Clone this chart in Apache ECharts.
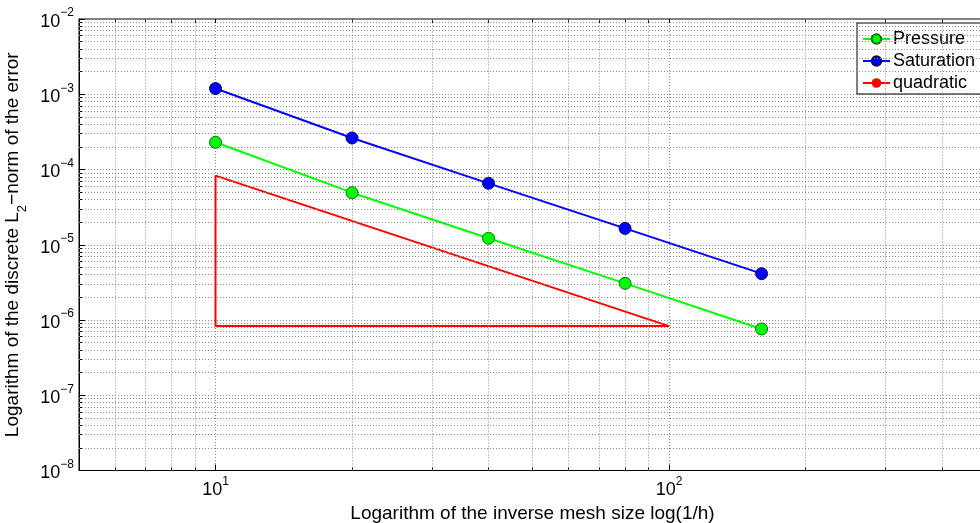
<!DOCTYPE html>
<html>
<head>
<meta charset="utf-8">
<script src="https://cdn.jsdelivr.net/npm/echarts@6/dist/echarts.min.js"></script>
<style>html,body{margin:0;padding:0;background:#fff;}#chart{width:980px;height:523px;}</style>
</head>
<body>
<div id="chart"></div>
<script>
// ---- data ----
const meshSizes = [10, 20, 40, 80, 160];
const pressure = [2.30e-4, 4.92e-5, 1.22e-5, 3.07e-6, 7.6e-7];
const saturation = [1.19e-3, 2.62e-4, 6.55e-5, 1.65e-5, 4.13e-6];
const quadraticX = [10, 100, 10, 10];
const quadraticY = [8.3e-5, 8.3e-7, 8.3e-7, 8.3e-5];
const xMajorTicks = [10, 100];
const xMinorTicks = [6, 7, 8, 9, 20, 30, 40, 50, 60, 70, 80, 90, 200, 300, 400];
const yMajorTicks = [1e-8, 1e-7, 1e-6, 1e-5, 1e-4, 1e-3, 1e-2];
const yMinorMantissas = [2, 3, 4, 5, 6, 7, 8, 9];
const xRange = [5, 500];
const yRange = [1e-8, 1e-2];
const xTitle = 'Logarithm of the inverse mesh size log(1/h)';
const yTitle = 'Logarithm of the discrete L{sub|2}\u2212norm of the error';
const seriesNames = ['Pressure', 'Saturation', 'quadratic'];

const yMinorTicks = [];
for (let i = 0; i < yMajorTicks.length - 1; i++) {
  yMinorMantissas.forEach(m => yMinorTicks.push(Number((m * yMajorTicks[i]).toPrecision(3))));
}

const FONT = '"Liberation Sans", Arial, Helvetica, sans-serif';
function powLabel(v) {
  const lg = Math.log10(v);
  const e = Math.round(lg);
  if (Math.abs(lg - e) > 1e-6) return '';
  return '{b|10}{s|' + (e < 0 ? '\u2212' : '') + Math.abs(e) + '}';
}
const labelRich = {
  b: { fontSize: 18, fontFamily: FONT, color: '#000', lineHeight: 24, verticalAlign: 'bottom' },
  s: { fontSize: 12, fontFamily: FONT, color: '#000', lineHeight: 24, verticalAlign: 'top' }
};

const gridLine = { color: '#8a8a8a', width: 1, type: [1, 2] };

const minorGrid = [];
xMinorTicks.forEach(v => minorGrid.push([{ coord: [v, yRange[0]] }, { coord: [v, yRange[1]] }]));
yMinorTicks.forEach(v => minorGrid.push([{ coord: [xRange[0], v] }, { coord: [xRange[1], v] }]));

function pairs(xs, ys) { return xs.map((x, i) => [x, ys[i]]); }

const option = {
  animation: false,
  backgroundColor: '#fff',
  textStyle: { fontFamily: FONT },
  grid: {
    left: 79, right: -6, top: 19, bottom: 52.5,
    outerBoundsMode: 'none', containLabel: false,
    show: true, borderColor: '#000', borderWidth: 1, backgroundColor: 'transparent'
  },
  legend: {
    data: seriesNames,
    orient: 'vertical',
    left: 857, top: 23,
    padding: [7, 12, 2, 5],
    itemWidth: 27, itemHeight: 12, itemGap: 4,
    backgroundColor: '#fff', borderColor: '#000', borderWidth: 1,
    textStyle: { fontSize: 18, lineHeight: 18, fontFamily: FONT, color: '#000', padding: [0, 0, 0, -2] }
  },
  xAxis: [
    {
      type: 'log', logBase: 10, min: xRange[0], max: xRange[1], position: 'bottom',
      name: xTitle, nameLocation: 'middle', nameGap: 26,
      nameTextStyle: { fontSize: 19, fontFamily: FONT, color: '#000' },
      axisLine: { show: true, onZero: false, lineStyle: { color: '#000', width: 1 } },
      axisTick: { show: true, inside: true, length: 6, lineStyle: { color: '#000' }, customValues: xMajorTicks },
      axisLabel: { show: true, margin: 5, customValues: xMajorTicks, formatter: powLabel, rich: labelRich, color: '#000' },
      splitLine: { show: true, lineStyle: gridLine },
      minorTick: { show: false }, minorSplitLine: { show: false }
    },
    {
      type: 'log', logBase: 10, min: xRange[0], max: xRange[1], position: 'bottom',
      axisLine: { show: false },
      axisTick: { show: true, inside: true, length: 3, lineStyle: { color: '#000' }, customValues: xMinorTicks },
      axisLabel: { show: false }, splitLine: { show: false }
    },
    {
      type: 'log', logBase: 10, min: xRange[0], max: xRange[1], position: 'top',
      axisLine: { show: false },
      axisTick: { show: true, inside: true, length: 4, lineStyle: { color: '#000' }, customValues: xMajorTicks.concat(xMinorTicks) },
      axisLabel: { show: false }, splitLine: { show: false }
    }
  ],
  yAxis: [
    {
      type: 'log', logBase: 10, min: yRange[0], max: yRange[1], position: 'left',
      name: yTitle,
      nameLocation: 'middle', nameGap: 49, nameRotate: 90,
      nameTextStyle: {
        fontSize: 19, fontFamily: FONT, color: '#000',
        rich: { sub: { fontSize: 13, fontFamily: FONT, color: '#000', verticalAlign: 'bottom', lineHeight: 24, padding: [0, 0, -5, 0] } }
      },
      axisLine: { show: true, onZero: false, lineStyle: { color: '#000', width: 1 } },
      axisTick: { show: true, inside: true, length: 6, lineStyle: { color: '#000' }, customValues: yMajorTicks },
      axisLabel: { show: true, margin: 5, customValues: yMajorTicks, formatter: powLabel, rich: labelRich, color: '#000' },
      splitLine: { show: true, lineStyle: gridLine }
    },
    {
      type: 'log', logBase: 10, min: yRange[0], max: yRange[1], position: 'left',
      axisLine: { show: false },
      axisTick: { show: true, inside: true, length: 3, lineStyle: { color: '#000' }, customValues: yMinorTicks },
      axisLabel: { show: false }, splitLine: { show: false }
    }
  ],
  series: [
    {
      type: 'line', xAxisIndex: 0, yAxisIndex: 0, data: [], silent: true, z: 1,
      markLine: {
        silent: true, symbol: ['none', 'none'], animation: false,
        label: { show: false },
        lineStyle: gridLine,
        emphasis: { disabled: true },
        data: minorGrid
      }
    },
    {
      name: seriesNames[0], type: 'line', data: pairs(meshSizes, pressure),
      symbol: 'circle', symbolSize: 12,
      lineStyle: { color: '#00ff00', width: 2 },
      itemStyle: { color: '#00ff00', borderColor: '#0b6e0b', borderWidth: 1 },
      z: 5
    },
    {
      name: seriesNames[1], type: 'line', data: pairs(meshSizes, saturation),
      symbol: 'circle', symbolSize: 12,
      lineStyle: { color: '#0000ff', width: 2 },
      itemStyle: { color: '#0000ff', borderColor: '#0a0a60', borderWidth: 1 },
      z: 5
    },
    {
      name: seriesNames[2], type: 'line', data: pairs(quadraticX, quadraticY),
      symbol: 'none', showSymbol: false,
      lineStyle: { color: '#ff0000', width: 2 },
      itemStyle: { color: '#ff0000' },
      z: 4
    }
  ]
};

const chart = echarts.init(document.getElementById('chart'), null, { renderer: 'canvas' });
chart.setOption(option);
</script>
</body>
</html>
